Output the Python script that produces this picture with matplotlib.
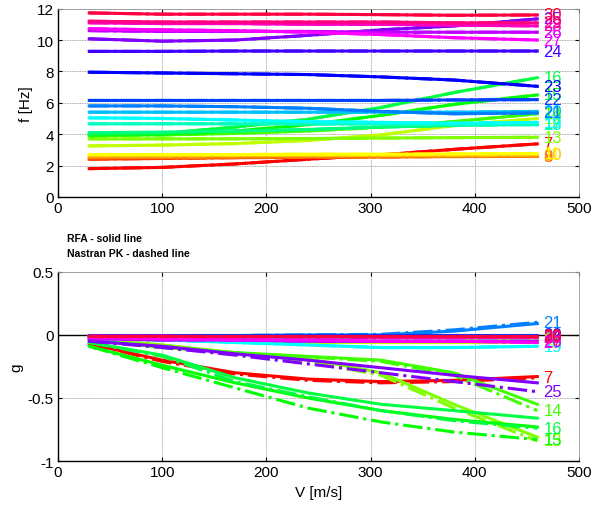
import matplotlib
matplotlib.use("Agg")
import matplotlib.pyplot as plt
from matplotlib.colors import hsv_to_rgb

plt.rcParams['font.family'] = ['Liberation Sans', 'DejaVu Sans']

V = [30, 100, 170, 240, 310, 380, 460]
modes = list(range(7, 31))

# frequency [Hz] (RFA solid)
f_solid = {
    7:  [1.80, 1.88, 2.10, 2.40, 2.68, 3.03, 3.38],
    8:  [2.40, 2.45, 2.50, 2.52, 2.55, 2.58, 2.60],
    9:  [2.50, 2.52, 2.55, 2.55, 2.56, 2.57, 2.58],
    10: [2.62, 2.62, 2.63, 2.64, 2.65, 2.66, 2.68],
    11: [2.70, 2.70, 2.70, 2.72, 2.72, 2.74, 2.76],
    12: [3.25, 3.30, 3.40, 3.60, 3.95, 4.55, 5.00],
    13: [3.70, 3.70, 3.70, 3.72, 3.75, 3.78, 3.80],
    14: [3.90, 3.95, 4.05, 4.20, 4.45, 4.80, 5.30],
    15: [3.95, 4.00, 4.20, 4.60, 5.20, 5.90, 6.50],
    16: [4.00, 4.05, 4.45, 4.95, 5.70, 6.65, 7.60],
    17: [4.10, 4.12, 4.20, 4.30, 4.45, 4.55, 4.65],
    18: [4.66, 4.66, 4.66, 4.65, 4.65, 4.60, 4.60],
    19: [5.04, 5.00, 4.90, 4.80, 4.75, 4.70, 4.75],
    20: [5.40, 5.40, 5.40, 5.40, 5.40, 5.40, 5.45],
    21: [5.80, 5.80, 5.75, 5.65, 5.45, 5.30, 5.35],
    22: [6.15, 6.15, 6.15, 6.15, 6.15, 6.18, 6.20],
    23: [7.95, 7.90, 7.85, 7.80, 7.65, 7.45, 7.05],
    24: [9.28, 9.28, 9.30, 9.30, 9.30, 9.30, 9.30],
    25: [10.08, 9.93, 10.00, 10.30, 10.65, 10.90, 11.35],
    26: [10.60, 10.55, 10.55, 10.55, 10.50, 10.50, 10.50],
    27: [10.72, 10.65, 10.60, 10.50, 10.35, 10.15, 10.00],
    28: [11.10, 11.05, 11.05, 11.00, 11.00, 10.95, 10.90],
    29: [11.20, 11.15, 11.15, 11.15, 11.15, 11.10, 11.10],
    30: [11.73, 11.65, 11.65, 11.65, 11.62, 11.58, 11.60],
}

# damping g (RFA solid)
g_solid = {
    7:  [-0.07, -0.20, -0.30, -0.35, -0.37, -0.36, -0.33],
    8:  [-0.01, -0.02, -0.02, -0.03, -0.03, -0.03, -0.03],
    9:  [-0.01, -0.01, -0.02, -0.02, -0.02, -0.02, -0.02],
    10: [-0.005, -0.01, -0.01, -0.01, -0.01, -0.01, -0.01],
    11: [-0.02, -0.03, -0.03, -0.04, -0.04, -0.04, -0.04],
    12: [-0.03, -0.04, -0.05, -0.06, -0.06, -0.06, -0.06],
    13: [-0.03, -0.08, -0.14, -0.19, -0.30, -0.55, -0.81],
    14: [-0.04, -0.10, -0.14, -0.17, -0.20, -0.30, -0.55],
    15: [-0.09, -0.24, -0.38, -0.50, -0.60, -0.67, -0.73],
    16: [-0.06, -0.16, -0.34, -0.46, -0.55, -0.60, -0.66],
    17: [-0.02, -0.02, -0.02, -0.02, -0.02, -0.02, -0.02],
    18: [-0.03, -0.04, -0.05, -0.05, -0.05, -0.05, -0.05],
    19: [-0.02, -0.04, -0.06, -0.08, -0.10, -0.10, -0.09],
    20: [-0.01, -0.01, -0.01, -0.01, -0.01, -0.01, -0.01],
    21: [-0.005, -0.005, -0.005, 0.0, 0.0, 0.03, 0.09],
    22: [0.0, 0.0, 0.0, 0.0, 0.0, 0.0, 0.0],
    23: [-0.01, -0.01, -0.01, -0.01, -0.01, -0.01, -0.01],
    24: [-0.005, -0.005, -0.005, -0.005, -0.005, -0.005, -0.005],
    25: [-0.05, -0.09, -0.15, -0.20, -0.26, -0.32, -0.38],
    26: [-0.03, -0.04, -0.04, -0.05, -0.05, -0.05, -0.05],
    27: [-0.02, -0.03, -0.04, -0.04, -0.05, -0.05, -0.06],
    28: [-0.01, -0.01, -0.015, -0.015, -0.02, -0.02, -0.02],
    29: [-0.01, -0.01, -0.01, -0.01, -0.01, -0.01, -0.01],
    30: [-0.005, -0.005, -0.005, -0.005, -0.005, -0.005, -0.005],
}

# damping g (Nastran PK dashed) where it differs visibly
g_dashed = {
    7:  [-0.07, -0.21, -0.31, -0.36, -0.38, -0.37, -0.34],
    13: [-0.03, -0.08, -0.15, -0.21, -0.32, -0.58, -0.84],
    14: [-0.04, -0.10, -0.145, -0.175, -0.21, -0.32, -0.60],
    15: [-0.09, -0.26, -0.42, -0.58, -0.69, -0.77, -0.83],
    16: [-0.06, -0.17, -0.37, -0.49, -0.60, -0.68, -0.74],
    21: [-0.005, -0.005, -0.005, 0.0, 0.005, 0.04, 0.10],
    25: [-0.05, -0.10, -0.16, -0.23, -0.30, -0.37, -0.45],
}

xticks = [0, 100, 200, 300, 400, 500]
f_ticks = [0, 2, 4, 6, 8, 10, 12]
g_ticks = [-1, -0.5, 0, 0.5]


def color(k):
    h = (k - modes[0]) / len(modes)
    return hsv_to_rgb((h, 1.0, 1.0))


fig = plt.figure(figsize=(5.92, 5.10), dpi=100)
ax1 = fig.add_axes([0.098, 0.612, 0.880, 0.369])
ax2 = fig.add_axes([0.098, 0.094, 0.880, 0.371])

lw = 2.2
for k in modes:
    c = color(k)
    ax1.plot(V, f_solid[k], '-.', color=c, lw=lw)
    ax1.plot(V, f_solid[k], '-', color=c, lw=lw)
    ax1.text(466, f_solid[k][-1], str(k), color=c, fontsize=12,
             ha='left', va='center')
    gd = g_dashed.get(k, g_solid[k])
    ax2.plot(V, gd, '-.', color=c, lw=lw)
    ax2.plot(V, g_solid[k], '-', color=c, lw=lw)
    ax2.text(466, gd[-1], str(k), color=c, fontsize=12,
             ha='left', va='center')

ax2.axhline(0, color='k', lw=1.0, zorder=1)

for ax, yt, yl in ((ax1, f_ticks, (0, 12)), (ax2, g_ticks, (-1, 0.5))):
    ax.set_xlim(0, 500)
    ax.set_ylim(*yl)
    ax.set_xticks(xticks)
    ax.set_yticks(yt)
    ax.set_yticklabels([('%g' % t) for t in yt])
    ax.grid(True, color='0.55', lw=0.6, linestyle=(0, (1, 1)))
    ax.set_axisbelow(True)
    ax.tick_params(direction='in', length=3, width=0.8, labelsize=11,
                   top=True, right=True, pad=3)
    for s in ('top', 'right'):
        ax.spines[s].set_color('0.6')
        ax.spines[s].set_linestyle((0, (1, 1)))
        ax.spines[s].set_linewidth(0.6)
    for s in ('left', 'bottom'):
        ax.spines[s].set_linewidth(1.0)

ax1.set_ylabel('f [Hz]', fontsize=11, labelpad=3)
ax2.set_ylabel('g', fontsize=11, labelpad=3)
ax2.set_xlabel('V [m/s]', fontsize=11, labelpad=4)

fig.text(0.113, 0.531, 'RFA - solid line', fontsize=7.5, fontweight='bold',
         ha='left', va='center')
fig.text(0.113, 0.502, 'Nastran PK - dashed line', fontsize=7.5,
         fontweight='bold', ha='left', va='center')

fig.savefig('out.png', dpi=100)
